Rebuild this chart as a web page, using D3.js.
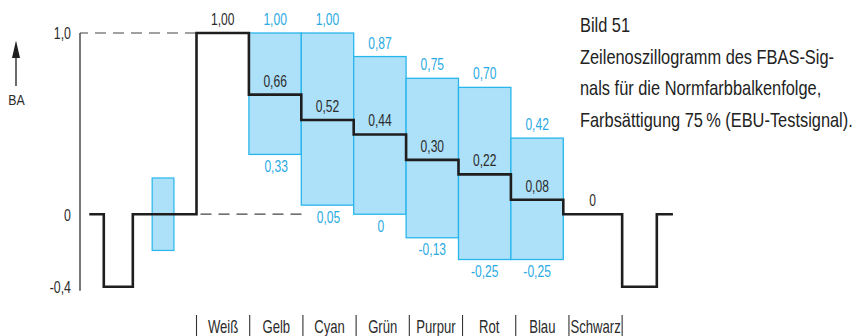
<!DOCTYPE html>
<html lang="de">
<head>
<meta charset="utf-8">
<script src="https://cdn.jsdelivr.net/npm/d3@7"></script>
<style>
  html, body { margin: 0; padding: 0; background: #fff; }
  svg { display: block; }
  text { font-family: "Liberation Sans", Arial, sans-serif; }
</style>
</head>
<body>
<svg id="chart" width="858" height="336"></svg>
<script>
// Farbbalken (EBU 75 %), Reihenfolge von links nach rechts
const categories = ["Weiß", "Gelb", "Cyan", "Grün", "Purpur", "Rot", "Blau", "Schwarz"];
// Luminanzpegel (schwarze Treppe) je Balken
const lumaValues = [1.00, 0.66, 0.52, 0.44, 0.30, 0.22, 0.08, 0];
// Ober- und Unterkante des FBAS-Signals (Chroma-Hüllkurve) je Balken
const chromaTop = [null, 1.00, 1.00, 0.87, 0.75, 0.70, 0.42, null];
const chromaBottom = [null, 0.33, 0.05, 0, -0.13, -0.25, -0.25, null];
// Zeitpunkte der Balkengrenzen (µs ab Beginn Weiß)
const barEdges = [0, 6.5, 13, 19.5, 26, 32.5, 39, 45.5, 52.8];
// Austastbereich: Zeilenanfang, Synchronimpulse, Burst, Zeilenende
const lineStart = -13.3;
const syncLeft = [-11.5, -7.9];
const syncRight = [52.8, 57.1];
const lineEnd = 59.1;
const burstSpan = [-5.5, -2.8];
const burstAmplitude = 0.2;
const syncLevel = -0.4;
const blankLevel = 0;
const whiteLevel = 1.0;
// Achsenbeschriftung
const yTicks = [1.0, 0, -0.4];
const yTickLabels = ["1,0", "0", "-0,4"];
const captionLines = [
  "Bild 51",
  "Zeilenoszillogramm des FBAS-Sig-",
  "nals für die Normfarbbalkenfolge,",
  "Farbsättigung 75\u2009% (EBU-Testsignal)."
];

const fmt = v => v === 0 ? "0" : d3.format(".2f")(v).replace(".", ",").replace("−", "-");

// schmale Schrift: Glyphen horizontal gestaucht
function narrow(sel, k) {
  sel.each(function () {
    const t = d3.select(this);
    const tx = +t.attr("x") || 0, ty = +t.attr("y") || 0;
    t.attr("x", 0).attr("y", 0)
     .attr("transform", `translate(${tx},${ty}) scale(${k},1)`);
  });
  return sel;
}

const svg = d3.select("#chart");
const BLUE_FILL = "#ade0f9";
const BLUE_LINE = "#29b6ec";
const BLUE_TEXT = "#2aaae2";
const INK = "#1e1e1e";
const TEXT = "#2b2b2b";
const VAL_SIZE = 16.3, VAL_K = 0.74;

const x = d3.scaleLinear().domain([0, 6.5]).range([196.5, 248.9]);
const y = d3.scaleLinear().domain([-0.4, 1.0]).range([286.7, 33]);

// y-Achse
const yAxis = d3.axisLeft(y)
  .tickValues(yTicks)
  .tickFormat((d, i) => yTickLabels[i])
  .tickSize(0)
  .tickPadding(9);
const gAxis = svg.append("g").attr("transform", "translate(80,0)").call(yAxis);
gAxis.select(".domain").remove();
gAxis.selectAll("text").attr("font-size", VAL_SIZE).attr("fill", TEXT)
  .style("font-family", '"Liberation Sans", Arial, sans-serif')
  .attr("dy", null).attr("y", 5.8);
narrow(gAxis.selectAll("text"), 0.76);
gAxis.append("line")
  .attr("x1", 0).attr("x2", 0)
  .attr("y1", y(whiteLevel)).attr("y2", y(syncLevel) + 4)
  .attr("stroke", INK).attr("stroke-width", 1.2);

// Pfeil "BA"
const arrow = svg.append("g").attr("transform", "translate(16,0)");
arrow.append("line").attr("x1", 0).attr("x2", 0).attr("y1", 56).attr("y2", 86)
  .attr("stroke", INK).attr("stroke-width", 1.3);
arrow.append("path").attr("d", "M0,40.5 L-4,58 L4,58 Z").attr("fill", INK);
narrow(arrow.append("text").attr("x", 0.5).attr("y", 104.5).attr("text-anchor", "middle")
  .attr("font-size", 14.5).attr("fill", TEXT).text("BA"), 0.85);

// Gestrichelte Bezugslinien für Weiß- und Austastpegel
svg.append("line")
  .attr("x1", 80).attr("x2", x(barEdges[0]))
  .attr("y1", y(whiteLevel)).attr("y2", y(whiteLevel))
  .attr("stroke", "#444").attr("stroke-width", 1.2)
  .attr("stroke-dasharray", "11,7").attr("stroke-dashoffset", 3);
svg.append("line")
  .attr("x1", x(barEdges[0])).attr("x2", x(barEdges[2]) + 7)
  .attr("y1", y(blankLevel)).attr("y2", y(blankLevel))
  .attr("stroke", "#444").attr("stroke-width", 1.2)
  .attr("stroke-dasharray", "11,7").attr("stroke-dashoffset", -4);

// Burst
svg.append("rect")
  .attr("x", x(burstSpan[0])).attr("width", x(burstSpan[1]) - x(burstSpan[0]))
  .attr("y", y(burstAmplitude)).attr("height", y(-burstAmplitude) - y(burstAmplitude))
  .attr("fill", BLUE_FILL).attr("stroke", BLUE_LINE).attr("stroke-width", 1.2);

// Chroma-Hüllkurven der Farbbalken
const bars = categories.map((c, i) => ({
  name: c, i,
  x0: barEdges[i], x1: barEdges[i + 1],
  luma: lumaValues[i], top: chromaTop[i], bottom: chromaBottom[i]
}));
const chromaBars = bars.filter(d => d.top !== null);
svg.append("g").selectAll("rect").data(chromaBars).join("rect")
  .attr("x", d => x(d.x0)).attr("width", d => x(d.x1) - x(d.x0))
  .attr("y", d => y(d.top)).attr("height", d => y(d.bottom) - y(d.top))
  .attr("fill", BLUE_FILL).attr("stroke", BLUE_LINE).attr("stroke-width", 1.3);

// Luminanztreppe mit Synchronimpulsen
const pts = [];
pts.push([lineStart, blankLevel], [syncLeft[0], blankLevel], [syncLeft[0], syncLevel],
         [syncLeft[1], syncLevel], [syncLeft[1], blankLevel], [barEdges[0], blankLevel]);
bars.forEach(d => { pts.push([d.x0, d.luma], [d.x1, d.luma]); });
pts.push([syncRight[0], blankLevel], [syncRight[0], syncLevel], [syncRight[1], syncLevel],
         [syncRight[1], blankLevel], [lineEnd, blankLevel]);
svg.append("path")
  .attr("d", d3.line().x(p => x(p[0])).y(p => y(p[1]))(pts))
  .attr("fill", "none").attr("stroke", INK).attr("stroke-width", 2.6)
  .attr("stroke-linejoin", "miter");

// Werte der Luminanzstufen
narrow(svg.append("g").selectAll("text").data(bars).join("text")
  .attr("x", d => (x(d.x0) + x(d.x1)) / 2)
  .attr("y", d => y(d.luma) - 8)
  .attr("text-anchor", "middle").attr("font-size", VAL_SIZE).attr("fill", TEXT)
  .text(d => fmt(d.luma)), VAL_K);

// Werte der Hüllkurven (oben / unten)
narrow(svg.append("g").selectAll("text").data(chromaBars).join("text")
  .attr("x", d => (x(d.x0) + x(d.x1)) / 2)
  .attr("y", d => y(d.top) - 8)
  .attr("text-anchor", "middle").attr("font-size", VAL_SIZE).attr("fill", BLUE_TEXT)
  .text(d => fmt(d.top)), VAL_K);
narrow(svg.append("g").selectAll("text").data(chromaBars).join("text")
  .attr("x", d => (x(d.x0) + x(d.x1)) / 2 + (d.bottom < 0 ? 0 : 1))
  .attr("y", d => y(d.bottom) + 17.5)
  .attr("text-anchor", "middle").attr("font-size", VAL_SIZE).attr("fill", BLUE_TEXT)
  .text(d => fmt(d.bottom)), VAL_K);

// Balkennamen mit Trennstrichen
const band = d3.scaleBand().domain(categories)
  .range([x(barEdges[0]), x(barEdges[barEdges.length - 1])]);
const gNames = svg.append("g");
gNames.selectAll("line").data(categories.concat(["_end"])).join("line")
  .attr("x1", (d, i) => band.range()[0] + i * band.step())
  .attr("x2", (d, i) => band.range()[0] + i * band.step())
  .attr("y1", 315).attr("y2", 336)
  .attr("stroke", "#333").attr("stroke-width", 1.1);
narrow(gNames.selectAll("text").data(categories).join("text")
  .attr("x", d => band(d) + band.bandwidth() / 2)
  .attr("y", 333)
  .attr("text-anchor", "middle").attr("font-size", 17.5).attr("fill", TEXT)
  .text(d => d), 0.75);

// Bildunterschrift
narrow(svg.append("g").selectAll("text").data(captionLines).join("text")
  .attr("x", 580).attr("y", (d, i) => 32 + i * 31.5)
  .attr("font-size", 20).attr("fill", "#222")
  .text(d => d), 0.82);
</script>
</body>
</html>
